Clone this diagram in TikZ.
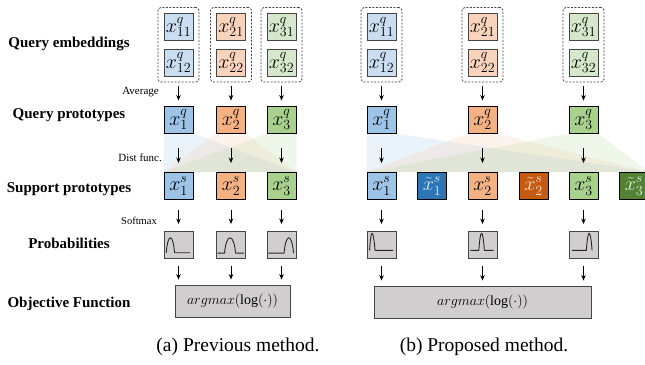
\RequirePackage{fix-cm}
\documentclass[tikz,border=0pt]{standalone}
\usepackage{fontspec}
\setmainfont{Liberation Serif}
\usetikzlibrary{positioning,arrows.meta,fit,backgrounds}

\definecolor{lblue}{HTML}{CADDF1}
\definecolor{mblue}{HTML}{9DC3E6}
\definecolor{dblue}{HTML}{2E75B6}
\definecolor{lorange}{HTML}{F9D3BB}
\definecolor{morange}{HTML}{F4B183}
\definecolor{dorange}{HTML}{C55A11}
\definecolor{lgreen}{HTML}{D5E8CB}
\definecolor{mgreen}{HTML}{A9D18E}
\definecolor{dgreen}{HTML}{548235}
\definecolor{pgray}{HTML}{D0CECE}
\definecolor{edge}{HTML}{454545}

\tikzset{
  vec/.style={draw=edge, line width=0.9pt, minimum width=29pt, minimum height=27pt,
    inner sep=0pt, font=\fontsize{20}{20}\selectfont},
  embgroup/.style={draw=edge, dash pattern=on 2pt off 1.5pt, rounded corners=3pt,
    line width=0.8pt, inner sep=5.5pt},
  prob/.style={vec, fill=pgray},
  objbox/.style={draw=edge, line width=0.9pt, fill=pgray, minimum height=32pt,
    font=\fontsize{14}{14}\selectfont},
  rowlabel/.style={font=\fontsize{15}{15}\selectfont\bfseries},
  steplabel/.style={font=\fontsize{11}{11}\selectfont, anchor=east, inner sep=0pt},
  capt/.style={font=\fontsize{19.5}{19.5}\selectfont},
  arr/.style={-{Stealth[length=5.5pt,width=4.5pt]}, line width=0.9pt},
  pcurve/.style={line width=0.9pt, line join=round, draw=black!85},
}

\begin{document}
\begin{tikzpicture}[x=1pt,y=-1pt]
  \useasboundingbox (0,0) rectangle (645,364);

  % row labels
  \node[rowlabel] (lemb) at (69,44) {Query embeddings};
  \node[rowlabel] (lqp) at (69,115) {Query prototypes};
  \node[rowlabel] (lsp) at (69,189) {Support prototypes};
  \node[rowlabel] (lprob) at (69,243) {Probabilities};
  \node[rowlabel] (lobj) at (69,304) {Objective Function};
  \node[steplabel] (lavg) at (159,92.5) {Average};
  \node[steplabel] (ldist) at (162,157.5) {Dist func.};
  \node[steplabel, font=\fontsize{10.5}{10.5}\selectfont] (lsoft) at (157,221) {Softmax};

  % (a) previous method
  \node[objbox, minimum width=115pt] (ao) at (232.5,301) {$argmax(\log(\cdot))$};
  \foreach \i/\cx/\cl/\cm in {1/178.5/lblue/mblue, 2/231/lorange/morange, 3/281.5/lgreen/mgreen} {
    \node[vec, fill=\cl] (a\i1) at (\cx,27) {$x^q_{\i1}$};
    \node[vec, fill=\cl] (a\i2) at (\cx,62.5) {$x^q_{\i2}$};
    \node[embgroup, fit=(a\i1)(a\i2)] (ag\i) {};
    \node[vec, fill=\cm, draw=black] (aq\i) at (\cx,119.5) {$x^q_{\i}$};
    \node[vec, fill=\cm, draw=black] (as\i) at (\cx,186) {$x^s_{\i}$};
    \node[prob] (ap\i) at (\cx,245) {};
    \draw[arr, shorten <=4pt, shorten >=5pt] (ag\i.south) -- (aq\i.north);
    \draw[arr, shorten <=15pt, shorten >=9pt] (aq\i) -- (as\i);
    \draw[arr, shorten <=10pt, shorten >=7pt] (as\i) -- (ap\i);
    \draw[arr, shorten <=7pt, shorten >=5pt] (ap\i.south) -- (ap\i.south |- ao.north);
  }
  \begin{scope}[on background layer]
    \fill[mblue, opacity=0.2] (aq1.south west) -- (aq1.south east) -- (as3.north east) -- (as1.north west) -- cycle;
    \fill[morange, opacity=0.15] (aq2.south west) -- (aq2.south east) -- (as3.north east) -- (as1.north west) -- cycle;
    \fill[mgreen, opacity=0.18] (aq3.south west) -- (aq3.south east) -- (as3.north east) -- (as1.north west) -- cycle;
  \end{scope}
  \begin{scope}[shift={(ap1.north west)}]
    \draw[pcurve] (2.7,21.7) .. controls (4.3,1.7) and (9.4,1.7) .. (11,21.7) -- (26.5,21.7);
  \end{scope}
  \begin{scope}[shift={(ap2.north west)}]
    \draw[pcurve] (1.3,22) -- (8.5,22) .. controls (10.3,1.7) and (17.7,1.7) .. (19.5,22) -- (28,22);
  \end{scope}
  \begin{scope}[shift={(ap3.north west)}]
    \draw[pcurve] (1.7,22) -- (17.5,22) .. controls (19.3,1.7) and (25.2,1.7) .. (27,22);
  \end{scope}
  \node[capt] (capa) at (238,347) {(a) Previous method.};

  % (b) proposed method
  \node[objbox, minimum width=217pt] (bo) at (482.5,302) {$argmax(\log(\cdot))$};
  \foreach \i/\cx/\cl/\cm in {1/381.5/lblue/mblue, 2/482.5/lorange/morange, 3/583.5/lgreen/mgreen} {
    \node[vec, fill=\cl] (b\i1) at (\cx,27) {$x^q_{\i1}$};
    \node[vec, fill=\cl] (b\i2) at (\cx,62.5) {$x^q_{\i2}$};
    \node[embgroup, fit=(b\i1)(b\i2)] (bg\i) {};
    \node[vec, fill=\cm, draw=black] (bq\i) at (\cx,119.5) {$x^q_{\i}$};
    \node[vec, fill=\cm, draw=black] (bs\i) at (\cx,186) {$x^s_{\i}$};
    \node[prob] (bp\i) at (\cx,245) {};
    \draw[arr, shorten <=4pt, shorten >=5pt] (bg\i.south) -- (bq\i.north);
    \draw[arr, shorten <=15pt, shorten >=9pt] (bq\i) -- (bs\i);
    \draw[arr, shorten <=10pt, shorten >=7pt] (bs\i) -- (bp\i);
    \draw[arr, shorten <=7pt, shorten >=5pt] (bp\i.south) -- (bp\i.south |- bo.north);
  }
  \foreach \i/\cx/\cd in {1/432/dblue, 2/533.5/dorange, 3/634/dgreen} {
    \node[vec, fill=\cd, draw=black, text=white!85!\cd] (bt\i) at (\cx,186) {$\tilde{x}^s_{\i}$};
  }
  \begin{scope}[on background layer]
    \fill[mblue, opacity=0.2] (bq1.south west) -- (bq1.south east) -- (bt3.north east) -- (bs1.north west) -- cycle;
    \fill[morange, opacity=0.15] (bq2.south west) -- (bq2.south east) -- (bt3.north east) -- (bs1.north west) -- cycle;
    \fill[mgreen, opacity=0.18] (bq3.south west) -- (bq3.south east) -- (bt3.north east) -- (bs1.north west) -- cycle;
  \end{scope}
  \begin{scope}[shift={(bp1.north west)}]
    \draw[pcurve] (3,19.3) .. controls (4.4,-3.4) and (6.6,-3.4) .. (8.5,19.3) -- (26.5,19.3);
  \end{scope}
  \begin{scope}[shift={(bp2.north west)}]
    \draw[pcurve] (2.7,19.3) -- (11.3,19.3) .. controls (12.8,-3.4) and (15.2,-3.4) .. (16.8,19.3) -- (26,19.3);
  \end{scope}
  \begin{scope}[shift={(bp3.north west)}]
    \draw[pcurve] (3.3,19.3) -- (17.8,19.3) .. controls (19.3,-3.4) and (21.9,-3.4) .. (23.5,19.3);
  \end{scope}
  \node[capt] (capb) at (484,347) {(b) Proposed method.};
\end{tikzpicture}
\end{document}
